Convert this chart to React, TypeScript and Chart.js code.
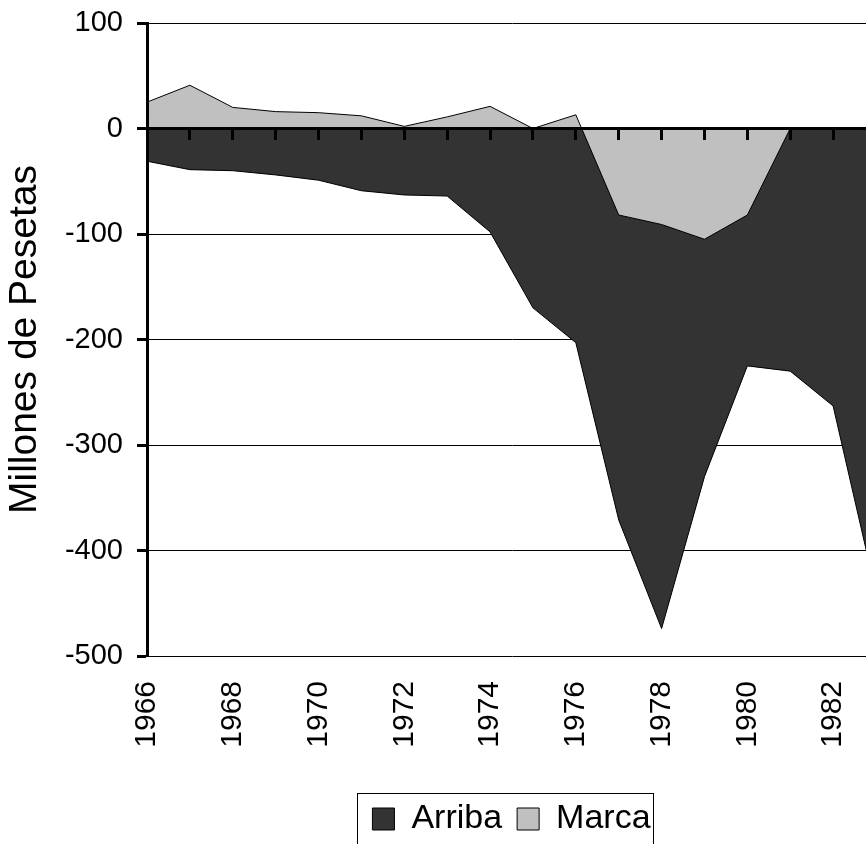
import React, { useEffect, useRef } from 'react';
import { Chart, registerables } from 'chart.js';

Chart.register(...registerables);

// ---- data ----
const years = [1966, 1967, 1968, 1969, 1970, 1971, 1972, 1973, 1974, 1975, 1976, 1977, 1978, 1979, 1980, 1981, 1982, 1983];
const arriba = [-31, -39, -40, -44, -49, -59, -63, -64, -98, -170, -203, -371, -474, -330, -225, -230, -263, -440];
const marca = [25, 41, 20, 16, 15, 12, 2, 11, 21, 0, 13, -82, -91, -105, -82, 0, 0, 0];
const seriesNames = ['Arriba', 'Marca'];
const xTickLabels = ['1966', '1968', '1970', '1972', '1974', '1976', '1978', '1980', '1982'];
const yMin = -500;
const yMax = 100;
const yStep = 100;
const yTitle = 'Millones de Pesetas';

const FONT = '"Liberation Sans", Arial, Helvetica, sans-serif';

// centre the legend under the plot area
const legendCenter = {
  id: 'legendCenter',
  afterLayout(chart: any) {
    const lg = chart.legend;
    if (!lg) return;
    lg.left = chart.chartArea.left;
    lg.right = chart.chartArea.right;
    lg.width = lg.right - lg.left;
  },
};

// frame drawn round the legend items
const legendBorder = {
  id: 'legendBorder',
  afterDraw(chart: any) {
    const lg = chart.legend;
    if (!lg || !lg.legendHitBoxes || !lg.legendHitBoxes.length) return;
    let l = Infinity, r = -Infinity, t = Infinity, b = -Infinity;
    lg.legendHitBoxes.forEach((h: any) => {
      l = Math.min(l, h.left);
      r = Math.max(r, h.left + h.width);
      t = Math.min(t, h.top);
      b = Math.max(b, h.top + h.height);
    });
    const ctx = chart.ctx;
    ctx.save();
    ctx.strokeStyle = '#000';
    ctx.lineWidth = 1;
    ctx.strokeRect(Math.round(l - 15) + 0.5, Math.round(t - 9) + 0.5, Math.round(r - l + 18), Math.round(b - t + 28));
    ctx.restore();
  },
};

export default function App() {
  const ref = useRef<HTMLCanvasElement | null>(null);

  useEffect(() => {
    if (!ref.current) return;
    const chart = new Chart(ref.current, {
      type: 'line',
      data: {
        datasets: [
          {
            label: seriesNames[0],
            data: years.map((x, i) => ({ x, y: arriba[i] })),
            backgroundColor: '#333333',
            borderColor: '#000000',
            borderWidth: 1,
            fill: 'origin',
            pointRadius: 0,
            tension: 0,
            order: 1,
            xAxisID: 'x',
            yAxisID: 'y',
          },
          {
            label: seriesNames[1],
            data: years.map((x, i) => ({ x, y: marca[i] })),
            backgroundColor: '#c0c0c0',
            borderColor: '#000000',
            borderWidth: 1,
            fill: 'origin',
            pointRadius: 0,
            tension: 0,
            order: 0,
            xAxisID: 'x',
            yAxisID: 'y',
          },
        ],
      },
      options: {
        animation: false,
        responsive: false,
        maintainAspectRatio: false,
        layout: { padding: { top: 23, right: 14, bottom: 24, left: 0 } },
        scales: {
          x: {
            type: 'linear',
            position: { y: 0 } as any,
            min: years[0],
            max: years[years.length - 1],
            ticks: { display: false, stepSize: 1 },
            grid: {
              z: 2,
              drawOnChartArea: false,
              drawTicks: true,
              tickLength: 10,
              tickWidth: 3,
              tickColor: '#000',
              color: '#000',
            },
            border: { display: true, width: 3, color: '#000', z: 2 },
            afterFit: (s: any) => {
              s.paddingLeft = 0;
              s.paddingRight = 0;
            },
          },
          x2: {
            type: 'linear',
            axis: 'x',
            position: 'bottom',
            min: years[0],
            max: years[years.length - 1],
            ticks: {
              stepSize: 2,
              includeBounds: false,
              minRotation: 90,
              maxRotation: 90,
              autoSkip: false,
              padding: 25,
              color: '#000',
              font: { family: FONT, size: 30 },
              callback: (v: any) => xTickLabels.find((s) => Number(s) === v) ?? '',
            },
            grid: { display: false, drawTicks: false },
            border: { display: false },
            afterFit: (s: any) => {
              s.height = 131;
              s.paddingLeft = 0;
              s.paddingRight = 0;
            },
          },
          y: {
            type: 'linear',
            position: 'left',
            min: yMin,
            max: yMax,
            ticks: {
              stepSize: yStep,
              padding: 14,
              color: '#000',
              font: { family: FONT, size: 29 },
            },
            grid: {
              color: '#000',
              lineWidth: 1,
              tickLength: 10,
              tickWidth: 3,
              tickColor: '#000',
            },
            border: { display: true, width: 3, color: '#000', z: 2 },
            title: {
              display: true,
              text: yTitle,
              color: '#000',
              font: { family: FONT, size: 39, lineHeight: 1 },
              padding: { top: 6, bottom: 0 },
            },
            afterFit: (s: any) => {
              s.width = 147;
              s.paddingTop = 10;
              s.paddingBottom = 10;
            },
          },
        } as any,
        plugins: {
          legend: {
            position: 'bottom',
            labels: {
              color: '#000',
              font: { family: FONT, size: 34 },
              boxWidth: 22,
              boxHeight: 22,
              padding: 15,
              sort: (a: any, b: any) => a.datasetIndex - b.datasetIndex,
            },
          },
          tooltip: { enabled: false },
        },
      },
      plugins: [legendCenter, legendBorder],
    });
    return () => chart.destroy();
  }, []);

  return (
    <div style={{ position: 'fixed', left: 0, top: 0, width: 866, height: 844, overflow: 'hidden', background: '#fff' }}>
      <canvas ref={ref} width={890} height={870} />
    </div>
  );
}
